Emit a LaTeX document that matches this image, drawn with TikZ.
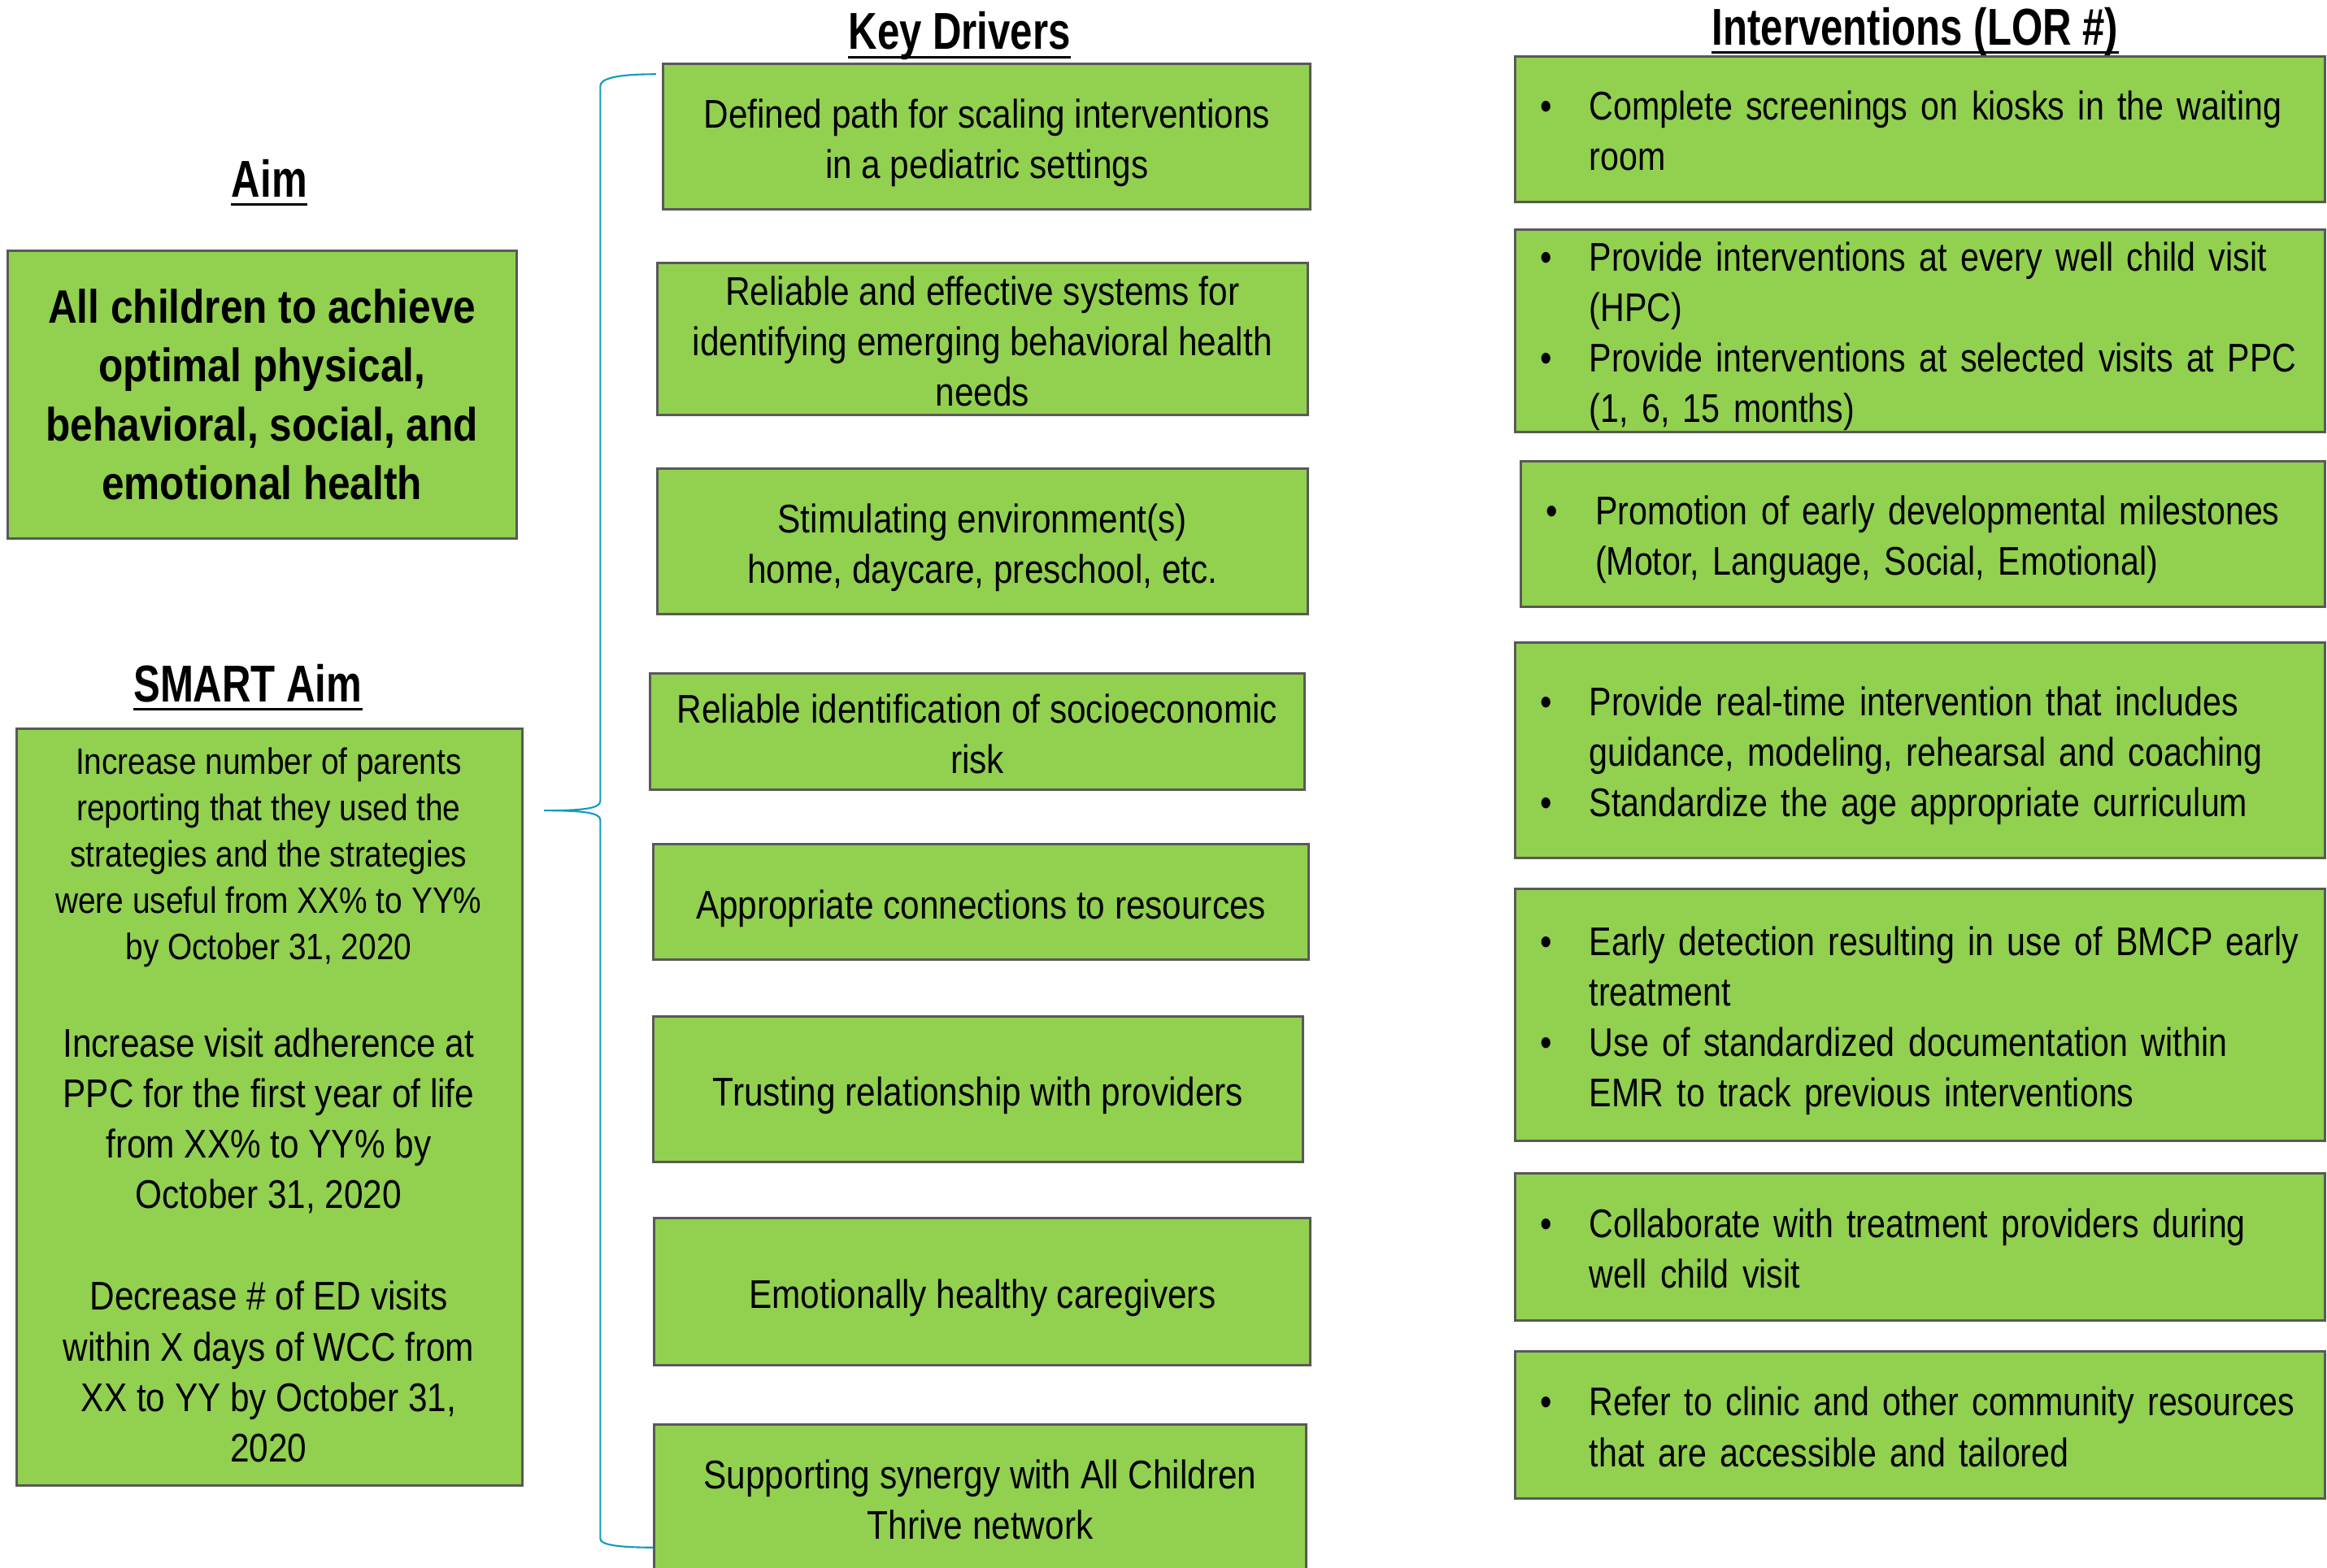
\documentclass[tikz,border=0pt]{standalone}
\usepackage{fontspec}
\usepackage{xcolor}
\usepackage{tikz}
\setmainfont{Liberation Sans}[FakeStretch=0.86]
\newfontfamily\headfont{Liberation Sans}[FakeStretch=0.77]
\newfontfamily\intfont{Liberation Sans}[FakeStretch=0.837]
\definecolor{boxgreen}{RGB}{146,208,80}
\definecolor{boxgray}{RGB}{89,89,89}
\definecolor{braceteal}{RGB}{16,156,186}
\newcommand{\pxu}{0.5193pt}
\newcommand{\bodysize}{\fontsize{14}{17.66}\selectfont}
\newcommand{\kdlines}[1]{\raisebox{-2.3pt}[\height][\depth]{\begin{tabular}{@{}c@{}}#1\end{tabular}}}
\newcommand{\bullines}[1]{\raisebox{-2.1pt}[\height][\depth]{\begin{tabular}{@{}p{17.1pt}@{}l@{}}#1\end{tabular}}}

\begin{document}
\begin{tikzpicture}[x=\pxu, y=-\pxu,
    box/.style={draw=boxgray, fill=boxgreen, line width=0.85pt, inner sep=0pt},
    kdbox/.style={box, font=\bodysize},
    intbox/.style={box, align=left, font=\intfont\bodysize, text width=265.6pt, inner xsep=8.83pt},
    head/.style={font=\headfont\bfseries\fontsize{18.15}{22}\selectfont, inner sep=0pt, anchor=base},
    uline/.style={line width=0.8pt},
    bracket/.style={draw=braceteal, line width=0.6pt}]
  \useasboundingbox (0,0) rectangle (1568,1056.3);
  \clip (0,0) rectangle (1568,1056.3);

  % headings
  \node[head] (aimhd) at (181.5,133) {Aim};
  \node[head] (smarthd) at (167,473) {SMART Aim};
  \node[head] (kdhd) at (646.6,33.4) {Key Drivers};
  \node[head] (inthd) at (1290.5,30.5) {Interventions (LOR \#)};
  \foreach \h in {aimhd,smarthd,kdhd,inthd}
    \draw[uline] ([yshift=-2.6pt]\h.base west) -- ([yshift=-2.6pt]\h.base east);

  % brace from the aims to the key drivers
  \coordinate (bt) at (442,50);
  \coordinate (bc) at (366.6,546.3);
  \coordinate (bb) at (441,1043);
  \draw[bracket] (bt) .. controls (415,50) and (404.5,53) .. (404.5,58)
    -- (404.5,540) .. controls (404.5,545) and (392,546.3) .. (bc)
    .. controls (392,546.3) and (404.5,547.6) .. (404.5,552.6)
    -- (404.5,1037) .. controls (404.5,1041) and (415,1043) .. (bb);

  % aims
  \node[box, align=center, font=\bfseries\fontsize{16.4}{20.6}\selectfont,
        minimum width=343*\pxu, minimum height=194*\pxu] (aim) at (176.5,266)
    {All children to achieve\\optimal physical,\\behavioral, social, and\\emotional health};
  \node[box, minimum width=341*\pxu, minimum height=510*\pxu] (smart) at (181.5,746) {};
  \node[align=center, font=\fontsize{12.84}{16.2}\selectfont] (smartA) at (181,578)
    {Increase number of parents\\reporting that they used the\\strategies and the strategies\\were useful from XX\% to YY\%\\by October 31, 2020};
  \node[align=center, font=\bodysize] (smartB) at (181,755.5)
    {Increase visit adherence at\\PPC for the first year of life\\from XX\% to YY\% by\\October 31, 2020};
  \node[align=center, font=\bodysize] (smartC) at (181,924.5)
    {Decrease \# of ED visits\\within X days of WCC from\\XX to YY by October 31,\\2020};

  % key drivers
  \node[kdbox, minimum width=436*\pxu, minimum height=98*\pxu] (kd1) at (665,92)
    {\kdlines{Defined path for scaling interventions\\in a pediatric settings}};
  \node[kdbox, minimum width=438*\pxu, minimum height=99*\pxu] (kd2) at (662,228.5)
    {\kdlines{Reliable and effective systems for\\identifying emerging behavioral health\\needs}};
  \node[kdbox, minimum width=438*\pxu, minimum height=98*\pxu] (kd3) at (662,365)
    {\kdlines{Stimulating environment(s)\\home, daycare, preschool, etc.}};
  \node[kdbox, minimum width=441*\pxu, minimum height=78*\pxu] (kd4) at (658.5,493)
    {\kdlines{Reliable identification of socioeconomic\\risk}};
  \node[kdbox, minimum width=442*\pxu, minimum height=78*\pxu] (kd5) at (661,608)
    {\kdlines{Appropriate connections to resources}};
  \node[kdbox, minimum width=438*\pxu, minimum height=98*\pxu] (kd6) at (659,734)
    {\kdlines{Trusting relationship with providers}};
  \node[kdbox, minimum width=442*\pxu, minimum height=99*\pxu] (kd7) at (662,870.5)
    {\kdlines{Emotionally healthy caregivers}};
  \node[kdbox, minimum width=439*\pxu, minimum height=98*\pxu] (kd8) at (660.5,1009)
    {\kdlines{Supporting synergy with All Children\\Thrive network}};

  % interventions
  \node[intbox, minimum height=98*\pxu] (int1) at (1293.7,87)
    {\bullines{\textbullet & Complete screenings on kiosks in the waiting\\ & room}};
  \node[intbox, minimum height=132*\pxu] (int2) at (1293.7,223)
    {\bullines{\textbullet & Provide interventions at every well child visit\\ & (HPC)\\
     \textbullet & Provide interventions at selected visits at PPC\\ & (1, 6, 15 months)}};
  \node[intbox, text width=263.5pt, minimum height=98*\pxu] (int3) at (1295.7,360)
    {\bullines{\textbullet & Promotion of early developmental milestones\\ & (Motor, Language, Social, Emotional)}};
  \node[intbox, minimum height=145*\pxu] (int4) at (1293.7,505.5)
    {\bullines{\textbullet & Provide real-time intervention that includes\\ & guidance, modeling, rehearsal and coaching\\
     \textbullet & Standardize the age appropriate curriculum}};
  \node[intbox, minimum height=170*\pxu] (int5) at (1293.7,684)
    {\bullines{\textbullet & Early detection resulting in use of BMCP early\\ & treatment\\
     \textbullet & Use of standardized documentation within\\ & EMR to track previous interventions}};
  \node[intbox, minimum height=99*\pxu] (int6) at (1293.7,840.5)
    {\bullines{\textbullet & Collaborate with treatment providers during\\ & well child visit}};
  \node[intbox, minimum height=99*\pxu] (int7) at (1293.7,960.5)
    {\bullines{\textbullet & Refer to clinic and other community resources\\ & that are accessible and tailored}};
\end{tikzpicture}
\end{document}
